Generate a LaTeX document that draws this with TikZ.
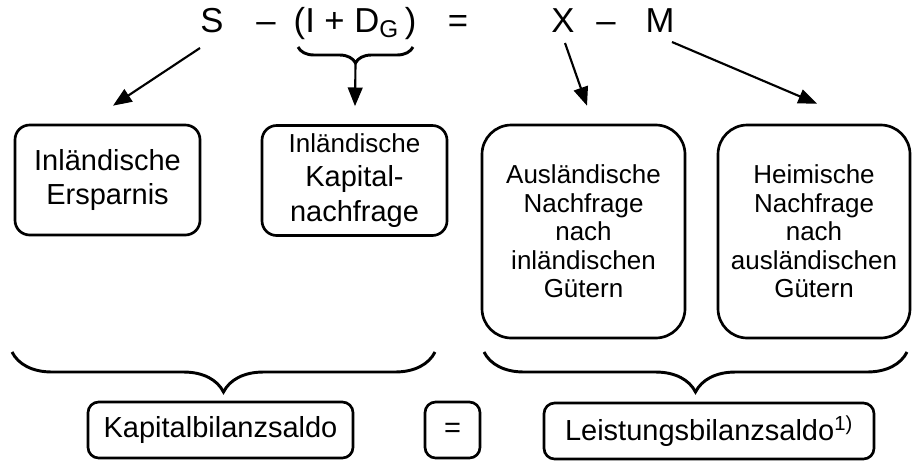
\documentclass[tikz,border=0pt]{standalone}
\usepackage{fontspec}
\setmainfont{Liberation Sans}
\usetikzlibrary{arrows.meta, calc, decorations.pathreplacing}

\tikzset{
    eqn/.style={anchor=base, inner sep=0pt, font=\fontsize{26}{30}\selectfont},
    box/.style={draw, line width=2pt, inner sep=0pt, align=center},
    arr/.style={-{Triangle[length=14pt,width=11pt]}, line width=1.6pt},
    curly/.style={decorate, line width=2.2pt, decoration={brace, mirror, amplitude=#1}},
}

\begin{document}
\begin{tikzpicture}[x=0.75pt, y=-0.75pt]
    \useasboundingbox (0,0) rectangle (912,461);
    % Gleichung oben
    \node (S)    at (212,32) [eqn] {S};
    \node (min1) at (266,32) [eqn] {--};
    \node (ID)   at (355,32) [eqn] {(I + D\textsubscript{G}\,)};
    \node (gl)   at (458,32) [eqn] {=};
    \node (X)    at (563,32) [eqn] {X};
    \node (min2) at (606,32) [eqn] {--};
    \node (M)    at (660,32) [eqn] {M};

    % Kaesten Mitte
    \node (spar) at (107.5,180) [box, rounded corners=11pt, minimum width=138.75pt, minimum height=82.5pt,
        font=\fontsize{21.75}{25.5}\selectfont] {Inländische\\Ersparnis};
    \node (kapn) at (354.5,180.5) [box, rounded corners=11pt, minimum width=138.75pt, minimum height=82.5pt,
        font=\fontsize{21.75}{26}\selectfont] {{\fontsize{19.5}{22}\selectfont Inländische}\\Kapital-\\nachfrage};
    \node (ausl) at (583.5,231.5) [box, rounded corners=22pt, minimum width=152.25pt, minimum height=159.75pt,
        font=\fontsize{19.5}{21.4}\selectfont] {Ausländische\\Nachfrage\\nach\\inländischen\\Gütern};
    \node (heim) at (814,231.5) [box, rounded corners=22pt, minimum width=144pt, minimum height=159.75pt,
        font=\fontsize{19.5}{21.4}\selectfont] {Heimische\\Nachfrage\\nach\\ausländischen\\Gütern};

    % Kaesten unten
    \node (kbs) at (220.5,430) [box, rounded corners=8pt, minimum width=198.75pt, minimum height=42pt,
        font=\fontsize{21.75}{26}\selectfont] {Kapitalbilanzsaldo};
    \node (gl2) at (452.5,430) [box, rounded corners=8pt, minimum width=41.25pt, minimum height=42pt,
        font=\fontsize{21.75}{26}\selectfont] {=};
    \node (lbs) at (709,431) [box, rounded corners=8pt, minimum width=247.5pt, minimum height=42pt,
        font=\fontsize{21.75}{26}\selectfont] {Leistungsbilanzsaldo\textsuperscript{1)}};

    % Klammern
    \draw [curly=12pt] (298,47) -- (413,47);
    \coordinate (idtip) at (355.5,63);
    \draw [curly=30pt] (12,352) -- (435,352);
    \draw [curly=30pt] (484,352) -- (907,352);

    % Pfeile
    \draw [arr] ($(S.base)+(-12,16)$) -- ($(spar.north)+(5.5,-18)$);
    \draw [arr] (idtip) -- ($(kapn.north)+(0.5,-18)$);
    \draw [arr] ($(X.base)+(2,11)$) -- ($(ausl.north)+(3.5,-18)$);
    \draw [arr] ($(M.base)+(12,10)$) -- ($(heim.north)+(3,-20)$);
\end{tikzpicture}
\end{document}
